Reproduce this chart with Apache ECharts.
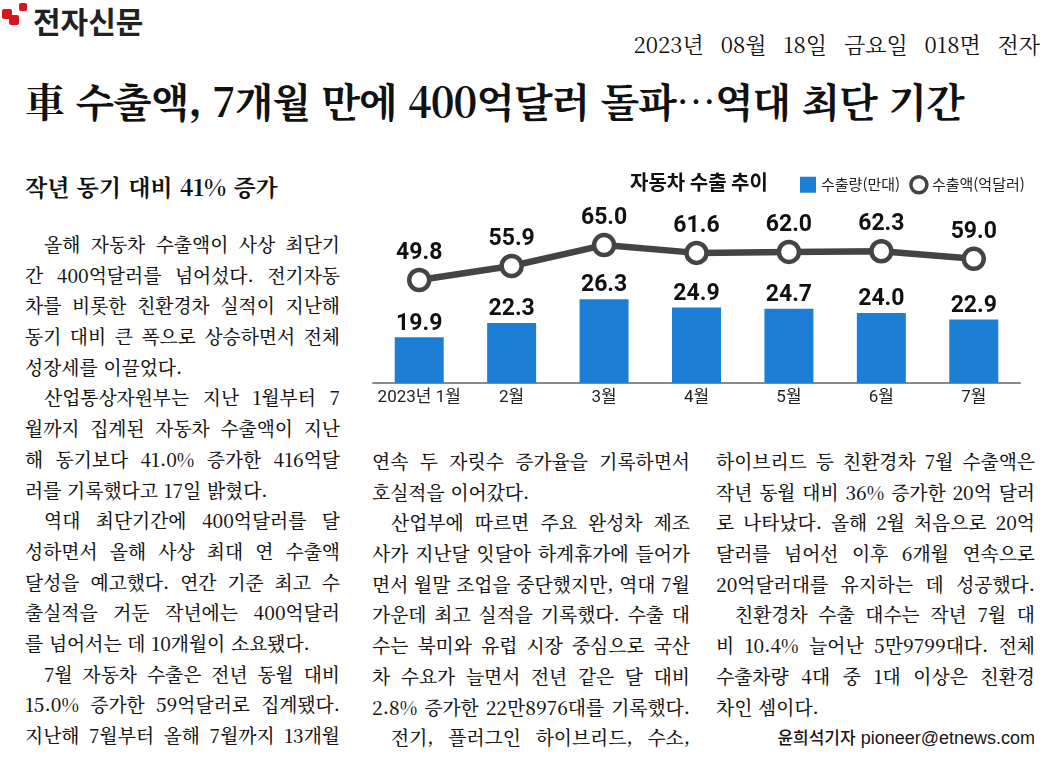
<!DOCTYPE html>
<html lang="ko">
<head>
<meta charset="utf-8">
<title>車 수출액, 7개월 만에 400억달러 돌파…역대 최단 기간</title>
<script src="https://cdn.jsdelivr.net/npm/echarts@6/dist/echarts.min.js"></script>
<style>
  html, body { margin: 0; padding: 0; background: #fff; }
  #page {
    position: relative; width: 1051px; height: 767px; overflow: hidden;
    background: #fff; color: #1a1a1a;
    font-family: 'Noto Serif CJK KR', 'Noto Sans CJK KR', sans-serif;
  }
  .abs { position: absolute; white-space: nowrap; }
  .sq { position: absolute; background: #d8141f; border-radius: 2px; }
  #logo { left: 33px; top: 3px; font-size: 30px; line-height: 34px; font-weight: 700;
    letter-spacing: 0px; color: #222; font-family: 'Noto Sans CJK KR', sans-serif; }
  #date { right: 11px; top: 30px; font-size: 22px; line-height: 28px; word-spacing: 10px; color: #111; }
  #headline { left: 25px; top: 74px; font-size: 40px; line-height: 52px; font-weight: 700;
    letter-spacing: -1px; color: #111; }
  #subhead { left: 25px; top: 171px; font-size: 23px; line-height: 32px; font-weight: 700; color: #111; }
  .col { position: absolute; font-size: 18.8px; line-height: 30.7px; font-weight: 500; color: #161616; }
  .ln { height: 30.7px; white-space: nowrap; }
  .ln.j { display: flex; justify-content: space-between; }
  .ln.i { padding-left: 19px; }
  #byline { text-align: right; font-family: 'Liberation Sans', 'Noto Sans CJK KR', sans-serif; font-size: 18px; font-weight: 400; }
  #byline b { font-family: 'Noto Sans CJK KR', sans-serif; font-weight: 500; font-size: 17px; }
  #chart { position: absolute; left: 0; top: 0; width: 1051px; height: 767px; }
</style>
</head>
<body>
<div id="page">
  <div class="sq" style="left:2px;top:9px;width:10px;height:10px"></div>
  <div class="sq" style="left:9px;top:15px;width:10px;height:10px"></div>
  <div class="sq" style="left:19px;top:3px;width:8px;height:8px"></div>
  <div id="logo" class="abs">전자신문</div>
  <div id="date" class="abs">2023년 08월 18일 금요일 018면 전자</div>
  <div id="headline" class="abs">車 수출액, 7개월 만에 400억달러 돌파…역대 최단 기간</div>
  <div id="subhead" class="abs">작년 동기 대비 41% 증가</div>
  <div id="col1" class="col" style="left:25px;top:229px;width:315px"></div>
  <div id="col2" class="col" style="left:372px;top:446px;width:318px"></div>
  <div id="col3" class="col" style="left:716px;top:446px;width:319px"></div>
  <div id="chart"></div>
</div>
<script>
// chart data
const months = ['2023년 1월', '2월', '3월', '4월', '5월', '6월', '7월'];
const exportVolume = [19.9, 22.3, 26.3, 24.9, 24.7, 24.0, 22.9];   // 수출량(만대)
const exportAmount = [49.8, 55.9, 65.0, 61.6, 62.0, 62.3, 59.0];   // 수출액(억달러)

// article lines: '>' = indented first line, '|' at end = paragraph end (not justified)
const col1 = [
  '>올해 자동차 수출액이 사상 최단기',
  '간 400억달러를 넘어섰다. 전기자동',
  '차를 비롯한 친환경차 실적이 지난해',
  '동기 대비 큰 폭으로 상승하면서 전체',
  '성장세를 이끌었다.|',
  '>산업통상자원부는 지난 1월부터 7',
  '월까지 집계된 자동차 수출액이 지난',
  '해 동기보다 41.0% 증가한 416억달',
  '러를 기록했다고 17일 밝혔다.|',
  '>역대 최단기간에 400억달러를 달',
  '성하면서 올해 사상 최대 연 수출액',
  '달성을 예고했다. 연간 기준 최고 수',
  '출실적을 거둔 작년에는 400억달러',
  '를 넘어서는 데 10개월이 소요됐다.|',
  '>7월 자동차 수출은 전년 동월 대비',
  '15.0% 증가한 59억달러로 집계됐다.',
  '지난해 7월부터 올해 7월까지 13개월'
];
const col2 = [
  '연속 두 자릿수 증가율을 기록하면서',
  '호실적을 이어갔다.|',
  '>산업부에 따르면 주요 완성차 제조',
  '사가 지난달 잇달아 하계휴가에 들어가',
  '면서 월말 조업을 중단했지만, 역대 7월',
  '가운데 최고 실적을 기록했다. 수출 대',
  '수는 북미와 유럽 시장 중심으로 국산',
  '차 수요가 늘면서 전년 같은 달 대비',
  '2.8% 증가한 22만8976대를 기록했다.',
  '>전기, 플러그인 하이브리드, 수소,'
];
const col3 = [
  '하이브리드 등 친환경차 7월 수출액은',
  '작년 동월 대비 36% 증가한 20억 달러',
  '로 나타났다. 올해 2월 처음으로 20억',
  '달러를 넘어선 이후 6개월 연속으로',
  '20억달러대를 유지하는 데 성공했다.',
  '>친환경차 수출 대수는 작년 7월 대',
  '비 10.4% 늘어난 5만9799대다. 전체',
  '수출차량 4대 중 1대 이상은 친환경',
  '차인 셈이다.|'
];

function fillColumn(id, lines) {
  const box = document.getElementById(id);
  lines.forEach(function (raw) {
    let text = raw;
    const div = document.createElement('div');
    div.className = 'ln';
    if (text.startsWith('>')) { div.classList.add('i'); text = text.slice(1); }
    if (text.endsWith('|')) {
      div.textContent = text.slice(0, -1);
    } else {
      div.classList.add('j');
      text.split(' ').forEach(function (w) {
        const s = document.createElement('span');
        s.textContent = w;
        div.appendChild(s);
      });
    }
    box.appendChild(div);
  });
}
fillColumn('col1', col1);
fillColumn('col2', col2);
fillColumn('col3', col3);
const by = document.createElement('div');
by.id = 'byline';
by.className = 'ln';
by.innerHTML = '<b>윤희석기자</b> pioneer@etnews.com';
document.getElementById('col3').appendChild(by);

const sans = "'Noto Sans CJK KR', sans-serif";
const numFont = "Roboto, 'Noto Sans CJK KR', sans-serif";
const myChart = echarts.init(document.getElementById('chart'));
const option = {
  animation: false,
  title: {
    text: '자동차 수출 추이',
    left: 630, top: 172, padding: 0,
    textStyle: { fontSize: 20, fontWeight: 'bold', color: '#111', fontFamily: sans }
  },
  legend: {
    left: 800, top: 175, padding: 0,
    itemWidth: 16, itemHeight: 16, itemGap: 9,
    selectedMode: false,
    textStyle: { fontSize: 15, color: '#222', fontFamily: sans },
    data: [
      { name: '수출량(만대)', icon: 'rect' },
      { name: '수출액(억달러)', icon: 'circle', itemStyle: { color: '#fff', borderColor: '#444', borderWidth: 3.5 } }
    ]
  },
  grid: { left: 373, right: 31, top: 200, bottom: 384 },
  xAxis: {
    type: 'category',
    data: months,
    axisLine: { lineStyle: { color: '#8a8a8a', width: 2 } },
    axisTick: { show: false },
    axisLabel: { interval: 0, color: '#222', fontSize: 17, margin: 6, fontFamily: numFont }
  },
  yAxis: [
    { type: 'value', min: 12.2, max: 43, show: false, splitLine: { show: false } },
    { type: 'value', min: 5, max: 84.6, show: false, splitLine: { show: false } }
  ],
  series: [
    {
      name: '수출량(만대)',
      type: 'bar',
      yAxisIndex: 0,
      barWidth: 49,
      data: exportVolume,
      itemStyle: { color: '#1c7fd5' },
      label: {
        show: true, position: 'top', distance: 2,
        formatter: function (p) { return p.value.toFixed(1); },
        fontSize: 23, fontWeight: 'bold', color: '#111', fontFamily: numFont
      }
    },
    {
      name: '수출액(억달러)',
      type: 'line',
      yAxisIndex: 1,
      data: exportAmount,
      z: 3,
      symbol: 'circle',
      symbolSize: 20,
      lineStyle: { color: '#444', width: 6.5 },
      itemStyle: { color: '#fff', borderColor: '#444', borderWidth: 4.5 },
      label: {
        show: true, position: 'top', distance: 3,
        formatter: function (p) { return p.value.toFixed(1); },
        fontSize: 23, fontWeight: 'bold', color: '#111', fontFamily: numFont
      }
    }
  ]
};
option && myChart.setOption(option);
</script>
</body>
</html>
